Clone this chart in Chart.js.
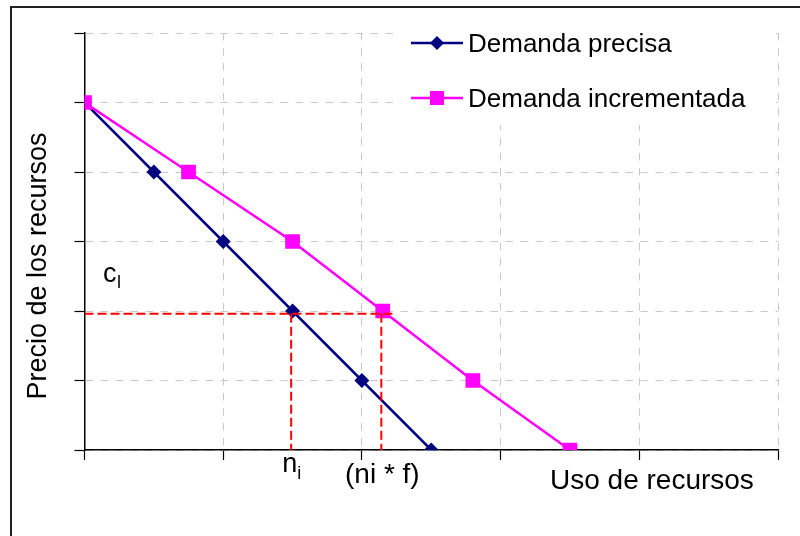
<!DOCTYPE html>
<html>
<head>
<meta charset="utf-8">
<script src="https://cdn.jsdelivr.net/npm/chart.js@4"></script>
<style>
    html, body { margin: 0; padding: 0; background: #fff; }
    #chart { display: block; }
</style>
</head>
<body>
<canvas id="chart" width="800" height="536"></canvas>
<script>
const usoPrecisa = [0, 0.5, 1, 1.5, 2, 2.5];
const precioPrecisa = [5, 4, 3, 2, 1, 0];
const usoIncrementada = [0, 0.75, 1.5, 2.15, 2.8, 3.5];
const precioIncrementada = [5, 4, 3, 2, 1, 0];

// reference lines (red dashes)
const precioCl = 1.96;
const usoNi = 1.49;
const usoNiF = 2.14;
const finCl = 2.22;

const legendLabels = ['Demanda precisa', 'Demanda incrementada'];
const xTitle = 'Uso de recursos';
const yTitle = 'Precio de los recursos';

const font = "'Liberation Sans', Arial, sans-serif";
const navy = '#000080';
const magenta = '#ff00ff';

const toPoints = (xs, ys) => xs.map((x, i) => ({ x, y: ys[i] }));

const redLine = (points) => ({
    data: points,
    borderColor: '#ff0000',
    borderWidth: 2,
    borderDash: [9, 4],
    pointRadius: 0,
    fill: false,
    order: -1,
});

const decorations = {
    id: 'decorations',
    beforeDraw(chart) {
        const { ctx } = chart;
        ctx.save();
        ctx.fillStyle = '#fff';
        ctx.fillRect(0, 0, chart.width, chart.height);
        ctx.strokeStyle = '#222';
        ctx.lineWidth = 2;
        ctx.beginPath();
        ctx.moveTo(11, chart.height);
        ctx.lineTo(11, 7);
        ctx.lineTo(chart.width, 7);
        ctx.stroke();
        ctx.restore();
    },
    afterDraw(chart) {
        const { ctx } = chart;
        const x = chart.scales.x;

        ctx.save();

        // legend box
        ctx.fillStyle = '#fff';
        ctx.fillRect(395, 9, 381, 116);
        const rows = [
            { y: 43, color: navy, shape: 'diamond', label: legendLabels[0], base: 52 },
            { y: 98, color: magenta, shape: 'square', label: legendLabels[1], base: 107 },
        ];
        rows.forEach((row) => {
            ctx.strokeStyle = row.color;
            ctx.lineWidth = 2.5;
            ctx.beginPath();
            ctx.moveTo(411, row.y);
            ctx.lineTo(463, row.y);
            ctx.stroke();
            ctx.fillStyle = row.color;
            ctx.beginPath();
            if (row.shape === 'diamond') {
                ctx.moveTo(437 - 7, row.y);
                ctx.lineTo(437, row.y - 7);
                ctx.lineTo(437 + 7, row.y);
                ctx.lineTo(437, row.y + 7);
                ctx.closePath();
            } else {
                ctx.rect(430, row.y - 7, 14, 14);
            }
            ctx.fill();
            ctx.fillStyle = '#000';
            ctx.font = `26px ${font}`;
            ctx.textBaseline = 'alphabetic';
            ctx.textAlign = 'left';
            ctx.fillText(row.label, 468, row.base);
        });

        ctx.fillStyle = '#000';
        ctx.textBaseline = 'alphabetic';

        // axis titles
        ctx.font = `28px ${font}`;
        ctx.textAlign = 'left';
        ctx.fillText(xTitle, 550, 489);

        ctx.save();
        ctx.font = `27px ${font}`;
        ctx.translate(46, 266);
        ctx.rotate(-Math.PI / 2);
        ctx.textAlign = 'center';
        ctx.fillText(yTitle, 0, 0);
        ctx.restore();

        // c_l
        ctx.textAlign = 'left';
        ctx.font = `27px ${font}`;
        ctx.fillText('c', 103, 282);
        ctx.font = `18px ${font}`;
        ctx.fillText('l', 117, 288);

        // n_i
        const niX = x.getPixelForValue(usoNi);
        ctx.font = `27px ${font}`;
        ctx.fillText('n', niX - 9, 472);
        ctx.font = `18px ${font}`;
        ctx.fillText('i', niX + 6, 479);

        // (ni * f)
        ctx.font = `28px ${font}`;
        ctx.textAlign = 'center';
        ctx.fillText('(ni * f)', x.getPixelForValue(usoNiF) + 1, 483);

        ctx.restore();
    },
};

new Chart(document.getElementById('chart'), {
    type: 'line',
    data: {
        datasets: [
            redLine([{ x: 0, y: precioCl }, { x: finCl, y: precioCl }]),
            redLine([{ x: usoNi, y: precioCl }, { x: usoNi, y: 0 }]),
            redLine([{ x: usoNiF, y: precioCl }, { x: usoNiF, y: 0 }]),
            {
                label: legendLabels[1],
                data: toPoints(usoIncrementada, precioIncrementada),
                borderColor: magenta,
                backgroundColor: magenta,
                borderWidth: 2.5,
                pointStyle: 'rect',
                pointRadius: 10.4,
                pointBorderWidth: 0,
                order: 1,
            },
            {
                label: legendLabels[0],
                data: toPoints(usoPrecisa, precioPrecisa),
                borderColor: navy,
                backgroundColor: navy,
                borderWidth: 2.5,
                pointStyle: 'rectRot',
                pointRadius: 7.5,
                pointBorderWidth: 0,
                order: 2,
            },
        ],
    },
    options: {
        responsive: false,
        animation: false,
        devicePixelRatio: 1,
        layout: { padding: { left: 0.5, top: 33, right: 22, bottom: 0 } },
        plugins: { legend: { display: false }, tooltip: { enabled: false } },
        elements: { line: { tension: 0 } },
        scales: {
            x: {
                type: 'linear',
                min: 0,
                max: 5,
                ticks: { stepSize: 1, display: false },
                grid: { color: '#c8c8c8', lineWidth: 1, tickColor: '#000', tickLength: 10, tickWidth: 1.2 },
                border: { color: '#000', width: 1.5, dash: [7.5, 7.5] },
                afterFit: (scale) => { scale.height = 86; },
            },
            y: {
                type: 'linear',
                min: 0,
                max: 6,
                ticks: { stepSize: 1, display: false },
                grid: { color: '#c8c8c8', lineWidth: 1, tickColor: '#000', tickLength: 10, tickWidth: 1.2 },
                border: { color: '#000', width: 1.5, dash: [7.5, 7.5] },
                afterFit: (scale) => { scale.width = 84; },
            },
        },
    },
    plugins: [decorations],
});
</script>
</body>
</html>
